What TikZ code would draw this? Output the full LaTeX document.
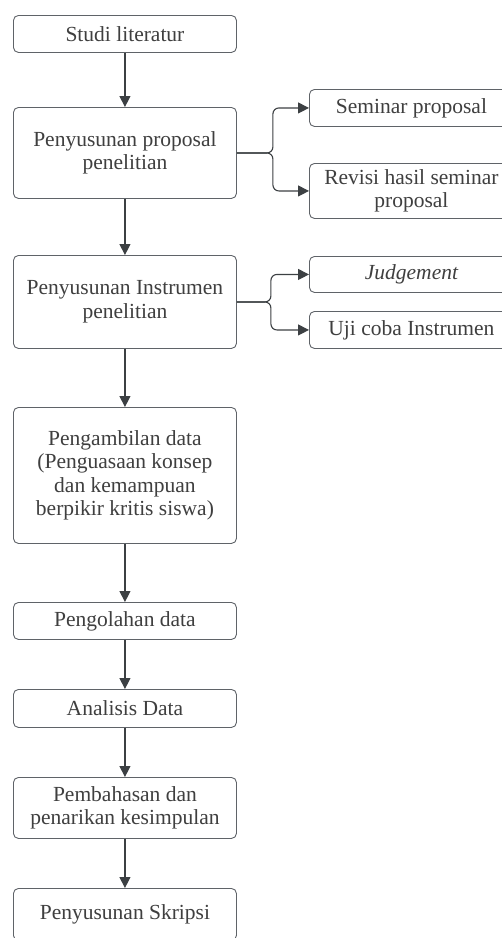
\documentclass[tikz,border=0pt]{standalone}
\usepackage{fontspec}
\setmainfont{Liberation Serif}
\usetikzlibrary{arrows.meta,positioning}
\definecolor{boxline}{HTML}{5F6368}
\definecolor{arrowc}{HTML}{3C4043}
\definecolor{txt}{HTML}{3F3F3F}
\tikzset{
  box/.style={draw=boxline, line width=0.9pt, rounded corners=5pt, align=center,
    text=txt, font=\fontsize{21.5}{23.5}\selectfont, inner sep=0pt, anchor=north west},
  conn/.style={draw=arrowc, line width=1.1pt, -{Triangle[length=11pt,width=11pt]}},
  branch/.style={draw=arrowc, line width=1.1pt, rounded corners=6pt, -{Triangle[length=11pt,width=11pt]}}
}
\begin{document}
\begin{tikzpicture}[x=1pt,y=-1pt]
\useasboundingbox (0,0) rectangle (502,938);
\clip (0,0) rectangle (502,938);
\fill[white] (0,0) rectangle (502,938);
% main column
\node[box, minimum width=223pt, minimum height=37pt] (b1) at (13,15) {Studi literatur};
\node[box, minimum width=223pt, minimum height=91pt] (b2) at (13,107) {Penyusunan proposal\\penelitian};
\node[box, minimum width=223pt, minimum height=93pt] (b3) at (13,255) {Penyusunan Instrumen\\penelitian};
\node[box, minimum width=223pt, minimum height=136pt] (b4) at (13,407) {Pengambilan data\\(Penguasaan konsep\\dan kemampuan\\berpikir kritis siswa)};
\node[box, minimum width=223pt, minimum height=37pt] (b5) at (13,602) {Pengolahan data};
\node[box, minimum width=223pt, minimum height=38pt] (b6) at (13,689) {Analisis Data};
\node[box, minimum width=223pt, minimum height=61pt] (b7) at (13,777) {Pembahasan dan\\penarikan kesimpulan};
\node[box, minimum width=223pt, minimum height=52pt] (b8) at (13,888) {Penyusunan Skripsi};
% side boxes
\node[box, minimum width=204pt, minimum height=37pt] (s1) at (309,89) {Seminar proposal};
\node[box, minimum width=204pt, minimum height=55pt] (s2) at (309,163) {Revisi hasil seminar\\proposal};
\node[box, minimum width=204pt, minimum height=36pt] (s3) at (309,256) {\itshape Judgement};
\node[box, minimum width=204pt, minimum height=37pt] (s4) at (309,311) {Uji coba Instrumen};
% vertical connectors
\draw[conn] (b1) -- (b2);
\draw[conn] (b2) -- (b3);
\draw[conn] (b3) -- (b4);
\draw[conn] (b4) -- (b5);
\draw[conn] (b5) -- (b6);
\draw[conn] (b6) -- (b7);
\draw[conn] (b7) -- (b8);
% branches
\draw[branch] (b2.east) -- ++(36,0) |- (s1.west);
\draw[branch] (b2.east) -- ++(36,0) |- (s2.west);
\draw[branch] (b3.east) -- ++(34,0) |- (s3.west);
\draw[branch] (b3.east) -- ++(34,0) |- (s4.west);
\end{tikzpicture}
\end{document}
